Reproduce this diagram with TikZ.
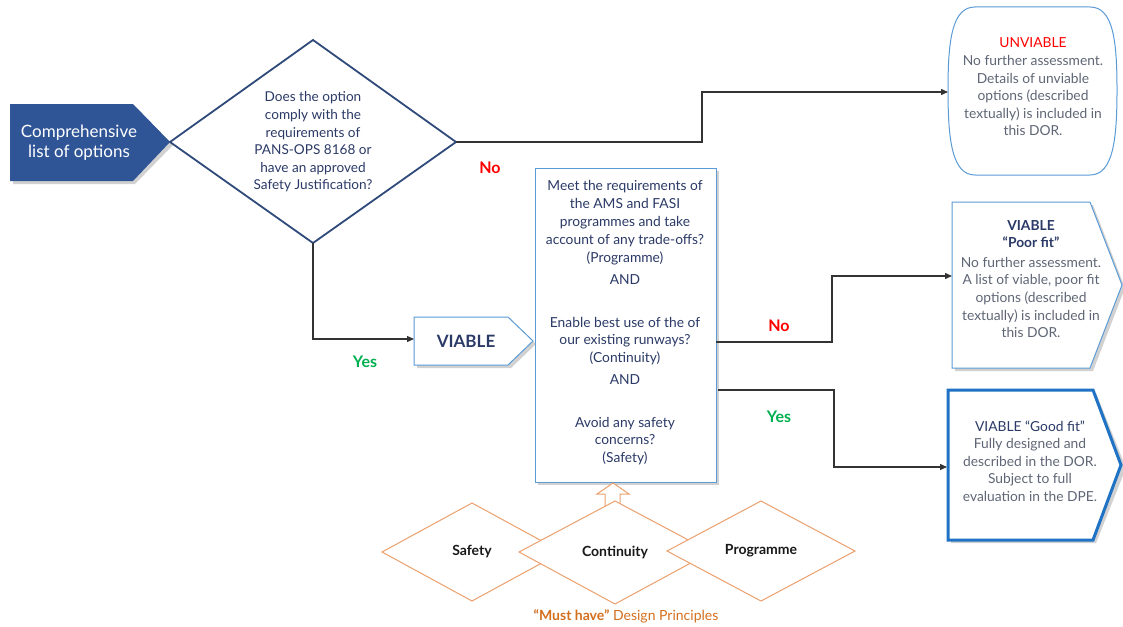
\documentclass[tikz,border=0pt]{standalone}
\usepackage{fontspec}
\setmainfont{Lato}
\usetikzlibrary{arrows.meta}
\definecolor{navy}{HTML}{2B3A67}
\definecolor{dstroke}{HTML}{2F4A7A}
\definecolor{cfill}{HTML}{2F5597}
\definecolor{lblue}{HTML}{5B9BD5}
\definecolor{dblue}{HTML}{1F72C4}
\definecolor{gtext}{HTML}{5F6675}
\definecolor{ostroke}{HTML}{EBA06E}
\definecolor{olabel}{HTML}{D46F1E}
\definecolor{ygreen}{HTML}{00B050}
\definecolor{nred}{HTML}{FF0000}
\definecolor{conn}{HTML}{333333}
\tikzset{
  txt/.style={align=center, inner sep=0pt, font=\fontsize{13.8}{17.6}\selectfont},
  navytxt/.style={txt, text=navy},
  graytxt/.style={txt, text=gtext},
  conline/.style={draw=conn, line width=1.3pt, -{Triangle[length=7pt,width=6pt]}},
  yeslbl/.style={text=ygreen, font=\fontsize{16}{16}\selectfont\bfseries, inner sep=0pt},
  nolbl/.style={text=nred, font=\fontsize{16}{16}\selectfont\bfseries, inner sep=0pt},
  shadowfill/.style={fill=black, opacity=0.18},
  odiamond/.style={draw=ostroke, line width=1pt, fill=white},
  dlabel/.style={font=\fontsize{14}{14}\selectfont\bfseries, text=black!90, inner sep=0pt},
}
\begin{document}
\begin{tikzpicture}[x=1pt,y=-1pt]
\useasboundingbox (0,0) rectangle (1123,626);
\fill[white] (0,0) rectangle (1123,626);

% Comprehensive list of options
\fill[shadowfill] (13,107) -- (135,107) -- (173,145) -- (135,184) -- (13,184) -- cycle;
\fill[cfill] (10,104) -- (133,104) -- (170,142) -- (133,181) -- (10,181) -- cycle;
\node[txt, text=white, font=\fontsize{17}{20}\selectfont] (comp) at (79,143) {Comprehensive\\list of options};
\coordinate (comptip) at (170,142);

% Decision diamond
\draw[dstroke, line width=1.8pt, fill=white] (170,142) -- (313,40) -- (456,142) -- (313,243) -- cycle;
\coordinate (dright) at (456,142);
\coordinate (dbottom) at (313,243);
\node[navytxt, font=\fontsize{13.6}{17.6}\selectfont] (q1) at (313,142) {Does the option\\comply with the\\requirements of\\PANS-OPS 8168 or\\have an approved\\Safety Justification?};

% UNVIABLE box
\draw[lblue, line width=1pt, fill=white] (975,7) -- (1090,7) .. controls (1113,7) and (1117,40) .. (1117,90) .. controls (1117,140) and (1113,175) .. (1090,175) -- (975,175) .. controls (952,175) and (948,140) .. (948,90) .. controls (948,40) and (952,7) .. (975,7) -- cycle;
\coordinate (unvin) at (948,92);
\node[graytxt] (unv) at (1033,87) {\textcolor{nred}{UNVIABLE}\\No further assessment.\\Details of unviable\\options (described\\textually) is included in\\this DOR.};

% VIABLE pentagon
\fill[shadowfill] (417,320) -- (511,320) -- (536,344) -- (511,368) -- (417,368) -- cycle;
\draw[lblue, line width=1pt, fill=white] (414,317) -- (508,317) -- (533,341) -- (508,365) -- (414,365) -- cycle;
\node[font=\fontsize{17}{17}\selectfont\bfseries, text=navy, inner sep=0pt] (viable) at (466,341) {VIABLE};
\coordinate (viablein) at (414,339);

% Middle criteria box
\fill[shadowfill] (538,171) rectangle (719,485);
\draw[lblue, line width=1pt, fill=white] (535,168) rectangle (716,482);
\node[navytxt, font=\fontsize{13.8}{18}\selectfont] (crit1) at (625,223) {Meet the requirements of\\the AMS and FASI\\programmes and take\\account of any trade-offs?\\(Programme)};
\node[navytxt, font=\fontsize{13.8}{18}\selectfont] (and1) at (625,280) {AND};
\node[navytxt, font=\fontsize{13.8}{17.5}\selectfont] (crit2) at (625,341) {Enable best use of the of\\our existing runways?\\(Continuity)};
\node[navytxt, font=\fontsize{13.8}{18}\selectfont] (and2) at (625,380) {AND};
\node[navytxt, font=\fontsize{13.8}{17.5}\selectfont] (crit3) at (625,441) {Avoid any safety\\concerns?\\(Safety)};
\coordinate (midno) at (716,342);
\coordinate (midyes) at (718,390);

% Poor fit box
\fill[shadowfill] (955,205) -- (1093,205) -- (1125,288) -- (1093,371) -- (955,371) -- cycle;
\draw[lblue, line width=1pt, fill=white] (952,202) -- (1090,202) -- (1122,285) -- (1090,368) -- (952,368) -- cycle;
\coordinate (poorin) at (952,276);
\node[graytxt] (poor) at (1031,279) {\textcolor{navy}{\bfseries VIABLE}\\\textcolor{navy}{\bfseries “Poor fit”}\\[2pt]No further assessment.\\A list of viable, poor fit\\options (described\\textually) is included in\\this DOR.};

% Good fit box
\fill[shadowfill] (951,393) -- (1096,393) -- (1126,468) -- (1096,543) -- (951,543) -- cycle;
\draw[dblue, line width=3pt, fill=white] (948,390) -- (1093,390) -- (1121,465) -- (1093,540) -- (948,540) -- cycle;
\coordinate (goodin) at (947,467);
\node[graytxt] (good) at (1030,461) {\textcolor{navy}{VIABLE “Good fit”}\\Fully designed and\\described in the DOR.\\Subject to full\\evaluation in the DPE.};

% Connectors
\draw[conline] (dright) -- (702,142) -- (702,92) -- (unvin);
\draw[conline] (dbottom) -- (313,339) -- (viablein);
\draw[conline] (midno) -- (832,342) -- (832,276) -- (poorin);
\draw[conline] (midyes) -- (834,390) -- (834,467) -- (goodin);

% Connector labels
\node[nolbl] (no1) at (490,168) {No};
\node[yeslbl] (yes1) at (365,362) {Yes};
\node[nolbl] (no2) at (779,326) {No};
\node[yeslbl] (yes2) at (779,417) {Yes};

% Hollow up arrow
\draw[ostroke, line width=1pt, fill=white] (605,510) -- (605,494) -- (597,494) -- (613,483) -- (629,494) -- (620,494) -- (620,510);

% Design principle diamonds
\draw[odiamond] (382,552) -- (472,503) -- (562,552) -- (472,601) -- cycle;
\draw[odiamond] (519,552) -- (615,501) -- (711,552) -- (615,604) -- cycle;
\draw[odiamond] (667,551) -- (761,501) -- (855,551) -- (761,601) -- cycle;
\node[dlabel] (safety) at (472,552) {Safety};
\node[dlabel] (continuity) at (615,552) {Continuity};
\node[dlabel] (programme) at (761,551) {Programme};
\node[text=olabel, font=\fontsize{14}{14}\selectfont, inner sep=0pt] (must) at (626,616) {\textbf{“Must have”} Design Principles};
\end{tikzpicture}
\end{document}
